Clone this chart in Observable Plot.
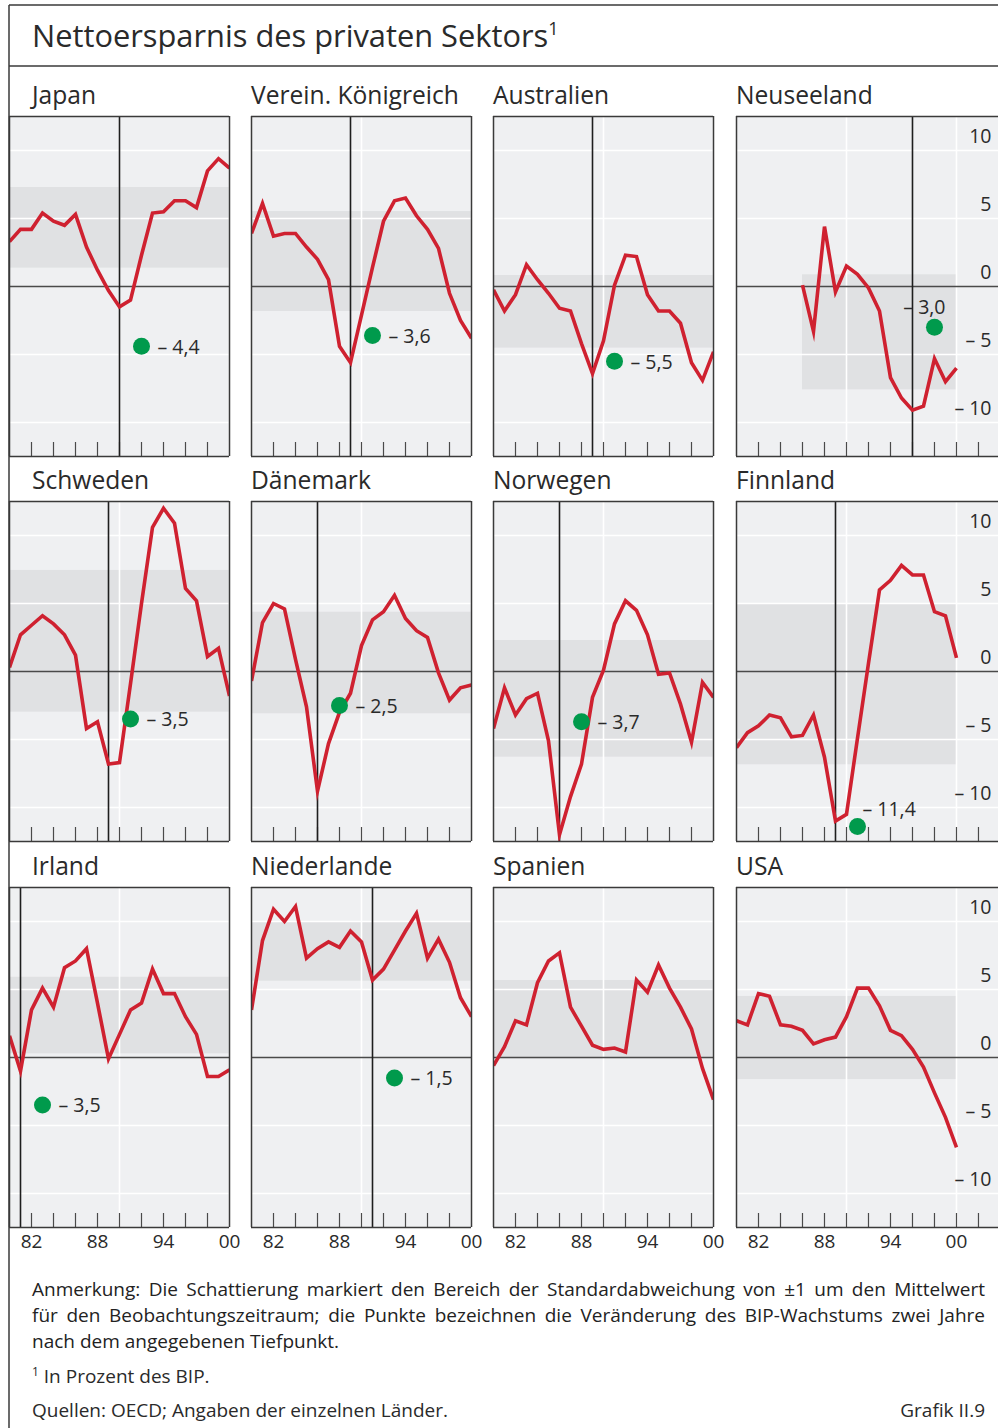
<!DOCTYPE html>
<html>
<head>
<meta charset="utf-8">
<script src="https://cdn.jsdelivr.net/npm/d3@7"></script>
<script src="https://cdn.jsdelivr.net/npm/@observablehq/plot@0.6"></script>
<style>
  body { margin: 0; background: #fff; }
  #page { position: relative; width: 998px; height: 1428px; overflow: hidden; background: #fff;
          font-family: "Open Sans", Roboto, sans-serif; color: #222; }
  .panel { position: absolute; }
  .panel svg { overflow: visible; }
  .note { position: absolute; left: 32px; width: 953px; font-size: 19px; line-height: 26px; color: #222; }
  .jl { text-align: justify; text-align-last: justify; }
  #overlay { position: absolute; left: 0; top: 0; pointer-events: none; }
</style>
</head>
<body>
<div id="page">
  <div class="note" style="top:1276px">
    <div class="jl">Anmerkung: Die Schattierung markiert den Bereich der Standardabweichung von ±1 um den Mittelwert</div>
    <div class="jl">für den Beobachtungszeitraum; die Punkte bezeichnen die Veränderung des BIP-Wachstums zwei Jahre</div>
    <div>nach dem angegebenen Tiefpunkt.</div>
  </div>
</div>
<script>
// ---------- data ----------
const countries = ["Japan", "Verein. Königreich", "Australien", "Neuseeland",
                   "Schweden", "Dänemark", "Norwegen", "Finnland",
                   "Irland", "Niederlande", "Spanien", "USA"];
const years = [1980,1981,1982,1983,1984,1985,1986,1987,1988,1989,1990,
               1991,1992,1993,1994,1995,1996,1997,1998,1999,2000];

const japan       = [3.3, 4.2, 4.2, 5.4, 4.8, 4.5, 5.3, 2.9, 1.2, -0.3, -1.5, -1.0, 2.3, 5.4, 5.5, 6.3, 6.3, 5.8, 8.5, 9.4, 8.7];
const uk          = [3.9, 6.1, 3.7, 3.9, 3.9, 2.9, 2.0, 0.5, -4.4, -5.6, -2.1, 1.4, 4.8, 6.3, 6.5, 5.2, 4.2, 2.8, -0.5, -2.5, -3.8];
const australia   = [-0.25, -1.8, -0.6, 1.6, 0.5, -0.5, -1.6, -1.8, -4.2, -6.4, -4.0, 0.1, 2.3, 2.2, -0.6, -1.8, -1.8, -2.7, -5.6, -6.9, -4.8];
const newZealand  = [null, null, null, null, null, null, 0.1, -3.3, 4.4, -0.4, 1.5, 0.9, -0.1, -1.8, -6.7, -8.2, -9.1, -8.8, -5.3, -7.0, -6.0];
const sweden      = [0.3, 2.7, 3.4, 4.1, 3.5, 2.7, 1.2, -4.2, -3.7, -6.8, -6.7, -0.9, 5.0, 10.6, 12.0, 10.9, 6.1, 5.2, 1.1, 1.7, -1.8];
const denmark     = [-0.7, 3.6, 5.0, 4.6, 0.9, -2.6, -8.8, -5.3, -3.0, -1.6, 1.9, 3.8, 4.4, 5.6, 3.9, 3.0, 2.5, -0.1, -2.1, -1.2, -1.0];
const norway      = [-4.2, -1.2, -3.2, -2.0, -1.6, -5.1, -12.0, -9.2, -6.8, -1.9, 0.1, 3.5, 5.2, 4.5, 2.7, -0.2, -0.1, -2.4, -5.2, -0.8, -1.9];
const finland     = [-5.6, -4.5, -4.0, -3.2, -3.4, -4.8, -4.7, -3.2, -6.3, -11.0, -10.5, -4.9, 0.6, 6.0, 6.7, 7.8, 7.1, 7.1, 4.4, 4.1, 1.0];
const ireland     = [1.6, -1.0, 3.5, 5.1, 3.7, 6.6, 7.1, 8.0, 4.0, -0.1, 1.7, 3.5, 4.0, 6.5, 4.7, 4.7, 3.0, 1.7, -1.4, -1.4, -0.9];
const netherlands = [3.5, 8.6, 10.9, 10.0, 11.1, 7.3, 8.0, 8.5, 8.1, 9.3, 8.5, 5.7, 6.5, 7.9, 9.3, 10.6, 7.3, 8.7, 7.0, 4.4, 3.0];
const spain       = [-0.6, 0.8, 2.7, 2.4, 5.5, 7.1, 7.7, 3.7, 2.3, 0.9, 0.6, 0.7, 0.4, 5.7, 4.8, 6.8, 5.1, 3.7, 2.1, -0.8, -3.1];
const usa         = [2.7, 2.4, 4.7, 4.5, 2.4, 2.3, 2.0, 1.0, 1.3, 1.5, 3.0, 5.1, 5.1, 3.8, 2.0, 1.6, 0.6, -0.7, -2.6, -4.4, -6.6];
const seriesList = [japan, uk, australia, newZealand, sweden, denmark, norway, finland, ireland, netherlands, spain, usa];

// +/-1 standard deviation band around the mean
const bandLow   = [1.35, -1.84, -4.53, -7.6, -2.99, -3.11, -6.3, -6.86, 0.27, 5.61, -0.1, -1.62];
const bandHigh  = [7.28, 5.51, 0.81, 0.86, 7.43, 4.36, 2.28, 4.98, 5.9, 9.95, 5.66, 4.49];
const bandStart = [1980, 1980, 1980, 1986, 1980, 1980, 1980, 1980, 1980, 1980, 1980, 1980];
const bandEnd   = [2000, 2000, 2000, 2000, 2000, 2000, 2000, 2000, 2000, 2000, 2000, 2000];

// trough year and change of GDP growth two years after the trough
const troughs   = [1990, 1989, 1989, 1996, 1989, 1986, 1986, 1989, 1981, 1991, null, null];
const gdpChange = [-4.4, -3.6, -5.5, -3.0, -3.5, -2.5, -3.7, -11.4, -3.5, -1.5, null, null];
const labelPlacement = ["right", "right", "right", "aboveLeft", "right", "right", "right", "aboveRight", "right", "right", null, null];

const yTicks = [10, 5, 0, -5, -10];
const xLabels = [1982, 1988, 1994, 2000];
const tickYearsLeft  = [1982, 1984, 1986, 1988, 1990, 1992, 1994, 1996, 1998];
const tickYearsRight = [1982, 1984, 1986, 1988, 1990, 1992, 1994, 1996, 1998, 2000, 2002];
const gridX = [1990, 2000];
const gridY = [-10, -5, 5, 10];
const xDomainLeft  = [1980, 2000];
const xDomainRight = [1980, 2003.82];
const yDomain = [-12.5, 12.5];

// ---------- style ----------
const FONT = "'Open Sans', Roboto, sans-serif";
const BG = "#eff0f2", BAND = "#e0e1e3", RED = "#cf2130", GREEN = "#009a4c";
const FRAME = "#3a3a3a", AXIS = "#4a4a4a", TEXT = "#2a2a2a";
const colLeft = [9, 251, 493, 736];
const rowTop = [116, 501, 887];
const titleBase = [104, 489, 875];
const H = 340;

const fmtDot = v => (v < 0 ? "– " : "") + Math.abs(v).toFixed(1).replace(".", ",");
const fmtTick = v => (v < 0 ? "– " : "") + Math.abs(v);

const page = document.getElementById("page");

seriesList.forEach((vals, i) => {
  const col = i % 4, row = Math.floor(i / 4);
  const isRight = col === 3, isBottom = row === 2;
  const xDomain = isRight ? xDomainRight : xDomainLeft;
  const innerW = isRight ? 262 : 220;
  const ml = 2, mr = isRight ? 0 : 2, mt = 2, mb = isBottom ? 34 : 2;
  const data = years.map((year, k) => ({year, v: vals[k]})).filter(d => d.v != null);

  const marks = [
    Plot.frame({fill: BG, stroke: null}),
    Plot.rect([{x1: bandStart[i], x2: bandEnd[i], y1: bandLow[i], y2: bandHigh[i]}],
              {x1: "x1", x2: "x2", y1: "y1", y2: "y2", fill: BAND}),
    Plot.ruleY(gridY, {stroke: "#fff", strokeWidth: 1.6}),
    Plot.ruleX(gridX, {stroke: "#fff", strokeWidth: 1.6}),
    Plot.ruleY([0], {stroke: AXIS, strokeWidth: 1.4}),
    Plot.ruleX(isRight ? tickYearsRight : tickYearsLeft, {stroke: AXIS, strokeWidth: 1.2, insetTop: H - 14})
  ];
  if (troughs[i] != null) marks.push(Plot.ruleX([troughs[i]], {stroke: "#1e1e1e", strokeWidth: 1.6}));
  marks.push(Plot.line(data, {x: "year", y: "v", stroke: RED, strokeWidth: 3.6,
    strokeLinejoin: "miter", strokeLinecap: "butt", strokeMiterlimit: 6, clip: true}));
  if (gdpChange[i] != null) {
    const d = [{x: troughs[i] + 2, y: gdpChange[i], t: fmtDot(gdpChange[i])}];
    marks.push(Plot.dot(d, {x: "x", y: "y", r: 8.5, fill: GREEN, stroke: null}));
    const p = labelPlacement[i];
    const opt = p === "aboveLeft" ? {dx: 11, dy: -20, textAnchor: "end"}
              : p === "aboveRight" ? {dx: 5, dy: -17, textAnchor: "start"}
              : {dx: 16, dy: 1, textAnchor: "start"};
    marks.push(Plot.text(d, {x: "x", y: "y", text: "t", fontSize: 19.5, fill: TEXT, ...opt}));
  }
  marks.push(Plot.ruleY([yDomain[1]], {stroke: FRAME, strokeWidth: 1.5}));
  marks.push(Plot.ruleY([yDomain[0]], {stroke: FRAME, strokeWidth: 1.5}));
  marks.push(Plot.ruleX([xDomain[0]], {stroke: FRAME, strokeWidth: 1.5}));
  if (!isRight) marks.push(Plot.ruleX([xDomain[1]], {stroke: FRAME, strokeWidth: 1.5}));
  if (isRight) marks.push(Plot.text(yTicks, {x: xDomain[1], y: d => d, text: fmtTick,
    textAnchor: "end", dx: -7, dy: -14, fontSize: 19.5, fill: TEXT}));

  const svg = Plot.plot({
    width: innerW + ml + mr, height: H + mt + mb,
    marginLeft: ml, marginRight: mr, marginTop: mt, marginBottom: mb,
    x: {domain: xDomain, axis: isBottom ? "bottom" : null, ticks: xLabels, tickSize: 0,
        tickPadding: 7, tickFormat: d => String(d).slice(2), label: null},
    y: {domain: yDomain, axis: null},
    style: {fontFamily: FONT, fontSize: "19px", color: TEXT, background: "transparent", overflow: "visible"},
    marks
  });
  const div = document.createElement("div");
  div.className = "panel";
  div.style.left = (colLeft[col] - ml) + "px";
  div.style.top = (rowTop[row] - mt) + "px";
  div.appendChild(svg);
  page.appendChild(div);
});

// ---------- overlay: borders, titles, footnotes ----------
const ov = d3.select("#page").append("svg").attr("id", "overlay")
  .attr("width", 998).attr("height", 1428)
  .style("font-family", FONT).style("fill", TEXT);
ov.append("line").attr("x1", 9).attr("x2", 998).attr("y1", 5).attr("y2", 5).attr("stroke", FRAME).attr("stroke-width", 1.5);
ov.append("line").attr("x1", 9).attr("x2", 998).attr("y1", 66).attr("y2", 66).attr("stroke", FRAME).attr("stroke-width", 1.5);
ov.append("line").attr("x1", 9).attr("x2", 9).attr("y1", 5).attr("y2", 1428).attr("stroke", FRAME).attr("stroke-width", 1.5);

const title = ov.append("text").attr("x", 32).attr("y", 47).attr("font-size", 30.8);
title.append("tspan").text("Nettoersparnis des privaten Sektors");
title.append("tspan").attr("font-size", 18).attr("dy", -12).text("1");

countries.forEach((name, i) => {
  const col = i % 4, row = Math.floor(i / 4);
  ov.append("text").attr("x", col === 0 ? 32 : colLeft[col]).attr("y", titleBase[row])
    .attr("font-size", 24.6).text(name);
});

const fn = ov.append("text").attr("x", 32).attr("y", 1383).attr("font-size", 19);
fn.append("tspan").attr("font-size", 12).attr("dy", -7).text("1");
fn.append("tspan").attr("dy", 7).text(" In Prozent des BIP.");
ov.append("text").attr("x", 32).attr("y", 1417).attr("font-size", 19).text("Quellen: OECD; Angaben der einzelnen Länder.");
ov.append("text").attr("x", 985).attr("y", 1417).attr("font-size", 19).attr("text-anchor", "end").text("Grafik II.9");
</script>
</body>
</html>
